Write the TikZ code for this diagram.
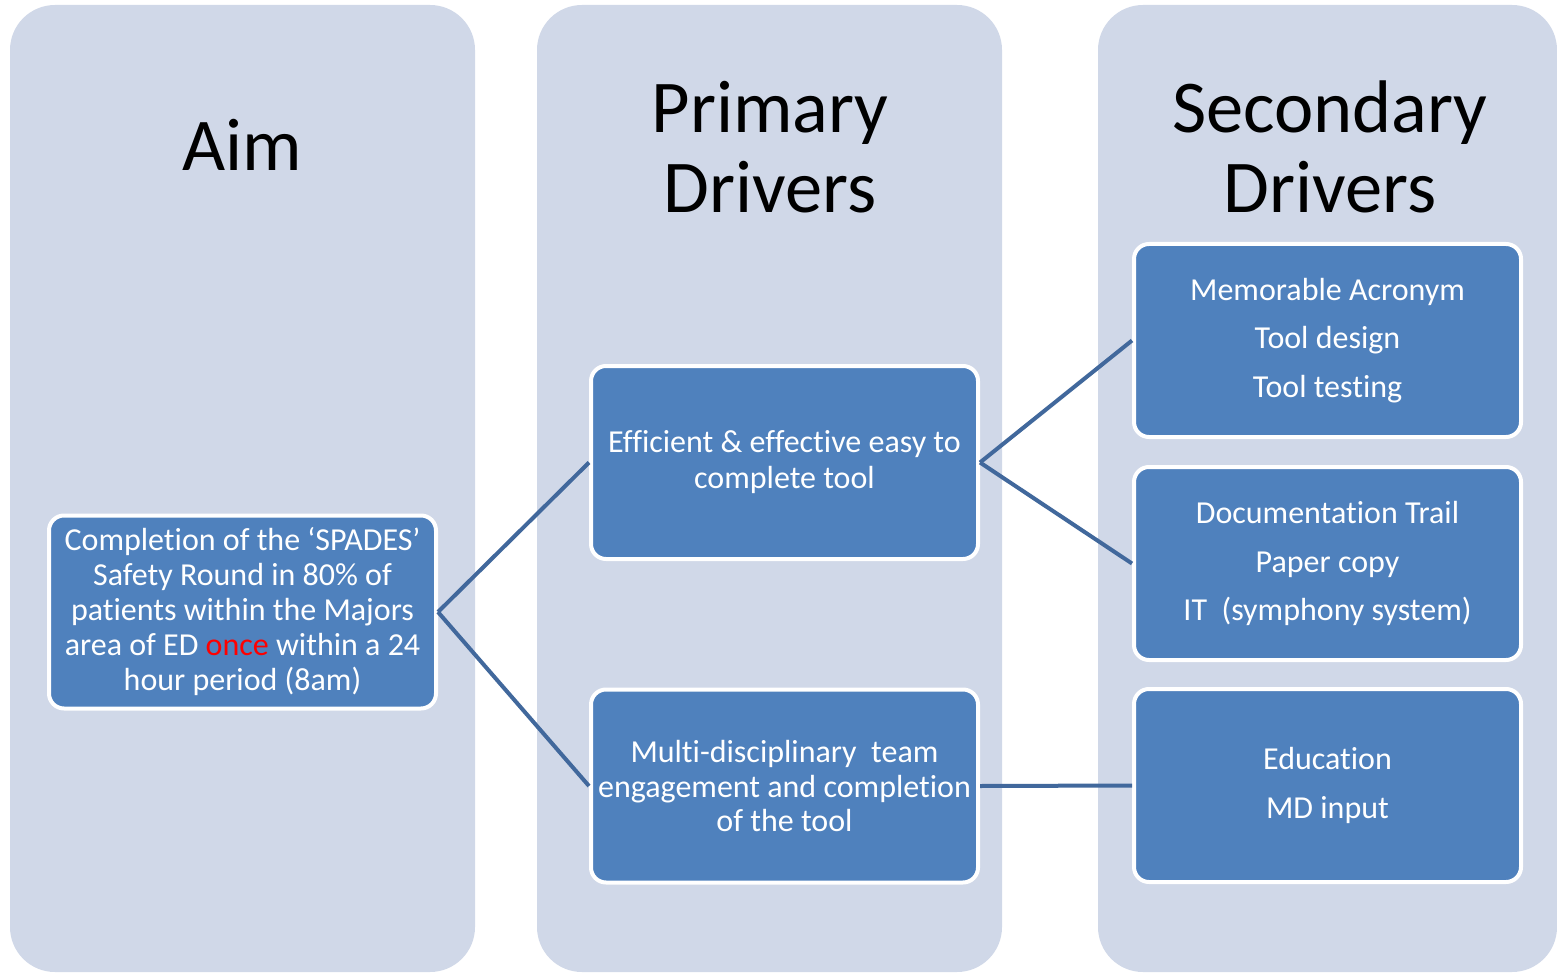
\documentclass[tikz,border=0pt]{standalone}
\usepackage{fontspec}
\setmainfont{Carlito}[Ligatures={NoCommon}]
\definecolor{colbg}{HTML}{D0D8E8}
\definecolor{boxfill}{HTML}{4F81BD}
\definecolor{conn}{HTML}{41689C}
\begin{document}
\begin{tikzpicture}[x=1pt,y=-1pt,
  column/.style={fill=colbg, rounded corners=45pt},
  header/.style={anchor=base, text=black, font=\fontsize{74.5}{80}\selectfont, inner sep=0pt},
  drvbox/.style={draw=white, line width=4pt, fill=boxfill, rounded corners=15pt,
    minimum width=387pt, minimum height=193pt, text=white, align=center, inner sep=2pt},
  connector/.style={draw=conn, line width=4pt}]
\useasboundingbox (0,0) rectangle (1557,973);
\fill[white] (0,0) rectangle (1557,973);
\fill[column] (10,5) rectangle (475,972);
\fill[column] (537,5) rectangle (1002,972);
\fill[column] (1098,5) rectangle (1557,972);

\node[header] (haim) at (242,171) {Aim};
\node[header] (hp1) at (770,133) {Primary};
\node[header] (hp2) at (770,213) {Drivers};
\node[header] (hs1) at (1330,133) {Secondary};
\node[header] (hs2) at (1330,213) {Drivers};

\node[drvbox, font=\fontsize{32}{35}\selectfont] (aim) at (242.5,612) {Completion of the ‘SPADES’\\Safety Round in 80\% of\\patients within the Majors\\area of ED \textcolor{red}{once} within a 24\\hour period (8am)};
\node[drvbox, font=\fontsize{32}{36}\selectfont] (p1) at (784.5,462.5) {Efficient \& effective easy to\\complete tool};
\node[drvbox, font=\fontsize{32}{35}\selectfont] (p2) at (784.5,786) {Multi-disciplinary\ \ team\\engagement and completion\\of the tool};
\node[drvbox, font=\fontsize{32}{48.5}\selectfont] (s1) at (1327.5,340.5) {Memorable Acronym\\Tool design\\Tool testing};
\node[drvbox, font=\fontsize{32}{48.5}\selectfont] (s2) at (1327.5,563.5) {Documentation Trail\\Paper copy\\IT\ \ (symphony system)};
\node[drvbox, font=\fontsize{32}{48.5}\selectfont] (s3) at (1327.5,785.5) {Education\\MD input};

\draw[connector] (aim.east) -- (p1.west);
\draw[connector] (aim.east) -- (p2.west);
\draw[connector] (p1.east) -- (s1.west);
\draw[connector] (p1.east) -- (s2.west);
\draw[connector] (p2.east) -- (s3.west);
\end{tikzpicture}
\end{document}
